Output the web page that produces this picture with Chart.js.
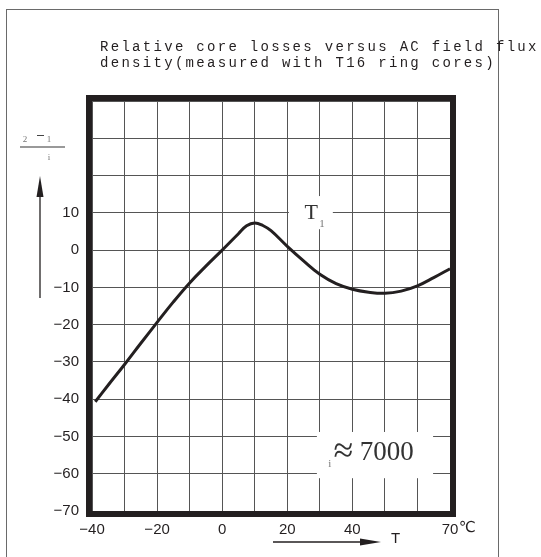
<!DOCTYPE html>
<html>
<head>
<meta charset="utf-8">
<script src="https://cdn.jsdelivr.net/npm/chart.js@4"></script>
<style>
  html, body { margin: 0; padding: 0; background: #fff; overflow: hidden; }
  #wrap { position: relative; width: 541px; height: 557px; }
  #frame { position: absolute; left: 6px; top: 9px; width: 491px; height: 600px; border: 1px solid #6a6a6a; }
  canvas { position: absolute; left: 0; top: 0; }
</style>
</head>
<body>
<div id="wrap">
  <div id="frame"></div>
  <canvas id="lossChart" width="541" height="557"></canvas>
</div>
<script>
// temperature (°C) and relative loss values
const temps  = [-39, -35, -30, -25, -20, -15, -10, -5, 0, 5, 7.5, 10, 12.5, 15, 20, 25, 30, 35, 40, 45, 50, 55, 60, 65, 70];
const losses = [-40.7, -36.2, -30.7, -25, -19.4, -13.9, -8.8, -4.3, 0, 4.4, 6.5, 7.3, 6.6, 5.2, 1, -2.9, -6.5, -9, -10.5, -11.3, -11.6, -11, -9.6, -7.4, -5];

const xLabelTicks = [-40, -20, 0, 20, 40, 70];
const yLabelTicks = [10, 0, -10, -20, -30, -40, -50, -60, -70];
const titleLines = ['Relative core losses versus AC field flux', 'density(measured with T16 ring cores)'];

const ink = '#231f20';
const fmt = (v) => (v < 0 ? '\u2212' + Math.abs(v) : String(v));

// Frame, title and annotations
const annotations = {
  id: 'annotations',
  beforeDatasetsDraw(chart) {
    const { ctx } = chart;
    const x = chart.scales.x, y = chart.scales.y;
    ctx.save();
    ctx.fillStyle = '#fff';
    // white patches behind labels
    ctx.fillRect(x.getPixelForValue(20.5), y.getPixelForValue(14.5),
      x.getPixelForValue(34) - x.getPixelForValue(20.5), y.getPixelForValue(5.6) - y.getPixelForValue(14.5));
    ctx.fillRect(x.getPixelForValue(29.1), y.getPixelForValue(-48.8),
      x.getPixelForValue(64.8) - x.getPixelForValue(29.1), y.getPixelForValue(-61.2) - y.getPixelForValue(-48.8));

    ctx.fillStyle = '#333';
    ctx.textBaseline = 'middle';
    ctx.font = '22px "Liberation Serif"';
    ctx.fillText('T', x.getPixelForValue(25.3), y.getPixelForValue(10));
    ctx.font = '11px "Liberation Serif"';
    ctx.fillStyle = '#777';
    ctx.fillText('1', x.getPixelForValue(29.8), y.getPixelForValue(7));
    ctx.fillText('i', x.getPixelForValue(32.6), y.getPixelForValue(-57.5));
    ctx.fillStyle = '#333';
    ctx.font = '36px "Liberation Serif"';
    ctx.fillText('\u2248', x.getPixelForValue(34.2), y.getPixelForValue(-54.3));
    ctx.font = '27px "Liberation Serif"';
    ctx.fillText('7000', x.getPixelForValue(42.3), y.getPixelForValue(-54.5));
    ctx.restore();
  },
  afterDraw(chart) {
    const { ctx, chartArea: a } = chart;
    ctx.save();
    // heavy plot frame
    ctx.strokeStyle = ink;
    ctx.lineWidth = 6;
    ctx.strokeRect(a.left - 3, a.top - 3, a.right - a.left + 6, a.bottom - a.top + 6);

    // title
    ctx.fillStyle = ink;
    ctx.font = '14px "Liberation Mono"';
    ctx.letterSpacing = '2.3px';
    ctx.textBaseline = 'middle';
    ctx.fillText(titleLines[0], 100, 47);
    ctx.fillText(titleLines[1], 100, 63);
    ctx.letterSpacing = '0px';

    // y axis quantity (fraction)
    ctx.fillStyle = '#777';
    ctx.font = '9px "Liberation Serif"';
    ctx.textAlign = 'center';
    ctx.fillText('2', 25, 140);
    ctx.fillText('1', 49, 140);
    ctx.fillText('i', 49, 158);
    ctx.strokeStyle = '#444';
    ctx.lineWidth = 1;
    ctx.beginPath(); ctx.moveTo(37, 135.5); ctx.lineTo(44, 135.5); ctx.stroke();
    ctx.strokeStyle = '#777';
    ctx.lineWidth = 1.5;
    ctx.beginPath(); ctx.moveTo(20, 147); ctx.lineTo(65, 147); ctx.stroke();

    // arrows
    ctx.strokeStyle = ink;
    ctx.fillStyle = ink;
    ctx.lineWidth = 1.3;
    ctx.beginPath(); ctx.moveTo(40, 298); ctx.lineTo(40, 185); ctx.stroke();
    ctx.beginPath(); ctx.moveTo(40, 176); ctx.lineTo(36.5, 197); ctx.lineTo(43.5, 197); ctx.closePath(); ctx.fill();
    ctx.beginPath(); ctx.moveTo(273, 542); ctx.lineTo(370, 542); ctx.stroke();
    ctx.beginPath(); ctx.moveTo(381, 542); ctx.lineTo(360, 538.5); ctx.lineTo(360, 545.5); ctx.closePath(); ctx.fill();

    ctx.font = '15px "Liberation Sans", "DejaVu Sans"';
    ctx.textAlign = 'left';
    ctx.fillText('T', 391, 539);
    ctx.font = '15px "DejaVu Sans"';
    ctx.fillText('\u2103', 459, 528);
    ctx.restore();
  }
};

new Chart(document.getElementById('lossChart'), {
  type: 'line',
  data: {
    datasets: [{
      data: temps.map((t, i) => ({ x: t, y: losses[i] })),
      borderColor: ink,
      borderWidth: 3,
      pointRadius: 0,
      tension: 0.4,
      fill: false
    }]
  },
  options: {
    responsive: false,
    animation: false,
    layout: { padding: { top: 101, right: 91, left: 0, bottom: 0 } },
    plugins: { legend: { display: false }, tooltip: { enabled: false } },
    scales: {
      x: {
        type: 'linear',
        min: -40, max: 70,
        afterFit: (s) => { s.height = 46; },
        border: { display: false },
        grid: { color: '#555', lineWidth: 1, drawTicks: false },
        ticks: {
          stepSize: 10, autoSkip: false, maxRotation: 0, padding: 10,
          color: ink, font: { family: 'Liberation Sans', size: 15 },
          callback: (v) => (xLabelTicks.includes(v) ? fmt(v) : '')
        }
      },
      y: {
        min: -70, max: 40,
        afterFit: (s) => { s.width = 92; },
        border: { display: false },
        grid: { color: '#555', lineWidth: 1, drawTicks: false },
        ticks: {
          stepSize: 10, autoSkip: false, padding: 13,
          color: ink, font: { family: 'Liberation Sans', size: 15 },
          callback: (v) => (yLabelTicks.includes(v) ? fmt(v) : '')
        }
      }
    }
  },
  plugins: [annotations]
});
</script>
</body>
</html>
